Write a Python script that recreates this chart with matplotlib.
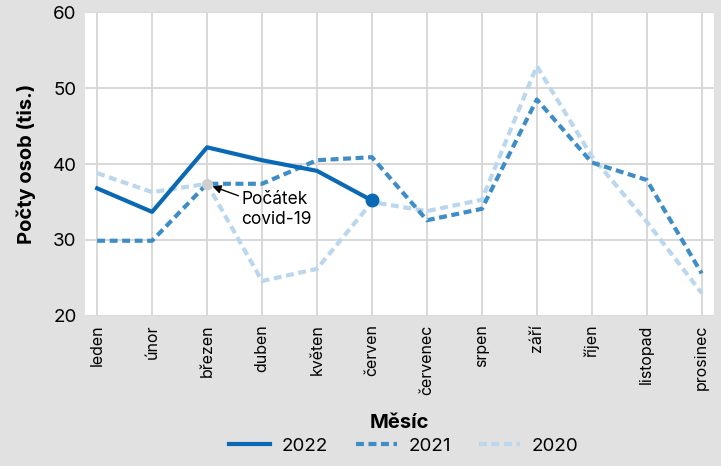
import numpy as np
import matplotlib
matplotlib.use("Agg")
import matplotlib.pyplot as plt

plt.rcParams['font.family'] = ['Inter', 'DejaVu Sans']

# months on the x axis
mesice = ['leden', 'únor', 'březen', 'duben', 'květen', 'červen',
          'červenec', 'srpen', 'září', 'říjen', 'listopad', 'prosinec']

# values (thousands of people)
rok_2022 = [36.8, 33.7, 42.2, 40.5, 39.1, 35.2]
rok_2021 = [29.9, 29.9, 37.4, 37.4, 40.5, 40.9, 32.6, 34.1, 48.5, 40.2, 37.9, 25.6]
rok_2020 = [38.8, 36.3, 37.4, 24.6, 26.2, 35.0, 33.8, 35.3, 52.9, 41.0, 32.4, 23.0]

x = np.arange(len(mesice))

fig = plt.figure(figsize=(7.21, 4.66), dpi=100)
fig.patch.set_facecolor('#e1e1e1')
ax = fig.add_axes([0.118, 0.322, 0.872, 0.652])
ax.set_facecolor('white')

ax.plot(x, rok_2020, color='#bad7ed', lw=3.0, dashes=(1.9, 1.1), label='2020', zorder=2)
ax.plot(x, rok_2021, color='#3f8dc7', lw=3.0, dashes=(1.9, 1.1), label='2021', zorder=3)
ax.plot(x[:len(rok_2022)], rok_2022, color='#0a69b4', lw=3.0, label='2022', zorder=4)

# end point of 2022 and the covid start point
ax.plot(x[len(rok_2022) - 1], rok_2022[-1], 'o', color='#0a69b4', ms=9, zorder=5)
ax.plot(x[2], rok_2020[2], 'o', color='#cfcfcf', ms=7, zorder=5)

ax.annotate('Počátek\ncovid-19', xy=(x[2] + 0.05, rok_2020[2] - 0.2),
            xytext=(x[2] + 0.62, rok_2020[2] - 1.0), fontsize=12.5, va='top',
            arrowprops=dict(arrowstyle='-|>', color='black', lw=1.0, shrinkA=0, shrinkB=2),
            zorder=6)

ax.set_xlim(-0.22, 11.22)
ax.set_ylim(20, 60)
ax.set_yticks([20, 30, 40, 50, 60])
ax.set_xticks(x)
ax.set_xticklabels(mesice, rotation=90, fontsize=11.5)
ax.tick_params(axis='y', labelsize=13.5)
ax.tick_params(length=0, pad=6)
ax.grid(True, color='#d6d6d6', lw=1.3)
ax.set_axisbelow(True)
for s in ax.spines.values():
    s.set_visible(False)

ax.set_ylabel('Počty osob (tis.)', fontsize=14.5, fontweight='bold', labelpad=12)
ax.set_xlabel('Měsíc', fontsize=14.5, fontweight='bold', labelpad=14)

handles, labels = ax.get_legend_handles_labels()
order = [2, 1, 0]
fig.legend([handles[i] for i in order], [labels[i] for i in order],
           loc='lower center', bbox_to_anchor=(0.56, -0.012), ncol=3, frameon=False,
           fontsize=13.5, handlelength=2.2, handletextpad=0.6, columnspacing=1.5)

fig.savefig('out.png', dpi=100, facecolor=fig.get_facecolor())
